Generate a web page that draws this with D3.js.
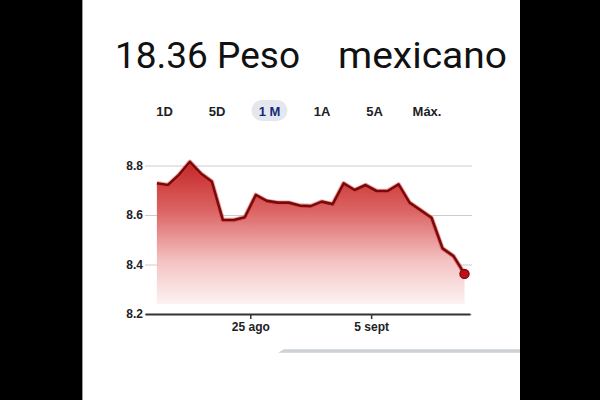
<!DOCTYPE html>
<html>
<head>
<meta charset="utf-8">
<script src="https://cdn.jsdelivr.net/npm/d3@7"></script>
<style>
  html, body { margin: 0; padding: 0; background: #000; }
  svg { display: block; }
</style>
</head>
<body>
<svg id="chart" width="600" height="400"></svg>
<script>
// ---- data ----
const dates = [
  "2023-08-16 12:00","2023-08-17 12:00","2023-08-18 12:00","2023-08-19 12:00","2023-08-20 12:00",
  "2023-08-21 12:00","2023-08-22 12:00","2023-08-23 12:00","2023-08-24 12:00","2023-08-25 12:00",
  "2023-08-26 12:00","2023-08-27 12:00","2023-08-28 12:00","2023-08-29 12:00","2023-08-30 12:00",
  "2023-08-31 12:00","2023-09-01 12:00","2023-09-02 12:00","2023-09-03 12:00","2023-09-04 12:00",
  "2023-09-05 12:00","2023-09-06 12:00","2023-09-07 12:00","2023-09-08 12:00","2023-09-09 12:00",
  "2023-09-10 12:00","2023-09-11 12:00","2023-09-12 12:00","2023-09-13 12:00"
];
const values = [
  8.728, 8.721, 8.762, 8.815, 8.768, 8.735, 8.580, 8.580, 8.591, 8.681,
  8.657, 8.650, 8.650, 8.638, 8.636, 8.654, 8.644, 8.728, 8.701, 8.721,
  8.697, 8.697, 8.724, 8.650, 8.620, 8.589, 8.465, 8.434, 8.362
];
const yTicks = [8.2, 8.4, 8.6, 8.8];
const xTickDates = ["2023-08-25 00:00", "2023-09-05 00:00"];
const xTickLabels = ["25 ago", "5 sept"];
const ranges = ["1D", "5D", "1 M", "1A", "5A", "Máx."];
const selectedRange = "1 M";
const titleValue = "18.36";
const titleWords = ["Peso", "mexicano"];

// ---- drawing ----
const parse = d3.timeParse("%Y-%m-%d %H:%M");
const data = dates.map((d, i) => ({ date: parse(d), value: values[i] }));

const svg = d3.select("#chart");

// background panels
svg.append("rect").attr("x", 0).attr("y", 0).attr("width", 600).attr("height", 400).attr("fill", "#000");
svg.append("rect").attr("x", 82).attr("y", 0).attr("width", 438).attr("height", 400).attr("fill", "#fff");
svg.append("line").attr("x1", 82.5).attr("x2", 82.5).attr("y1", 0).attr("y2", 400)
  .attr("stroke", "#9a9a9a").attr("stroke-width", 1);

// title
svg.append("text").attr("x", 115).attr("y", 68)
  .attr("font-family", "Roboto, 'Noto Sans', sans-serif").attr("font-size", 37.5)
  .attr("textLength", 185).attr("lengthAdjust", "spacingAndGlyphs")
  .attr("fill", "#111").text(titleValue + " " + titleWords[0]);
svg.append("text").attr("x", 338).attr("y", 68)
  .attr("font-family", "Roboto, 'Noto Sans', sans-serif").attr("font-size", 37.5)
  .attr("textLength", 169).attr("lengthAdjust", "spacingAndGlyphs")
  .attr("fill", "#111").text(titleWords[1]);

// range buttons
const btnCenters = d3.scalePoint().domain(ranges).range([164.5, 427]);
const btn = svg.append("g").selectAll("g").data(ranges).join("g")
  .attr("transform", d => `translate(${btnCenters(d)},0)`);
btn.filter(d => d === selectedRange).append("rect")
  .attr("x", -18).attr("y", 100).attr("width", 36).attr("height", 21).attr("rx", 10.5)
  .attr("fill", "#e4e8ee");
btn.append("text").attr("y", 116).attr("text-anchor", "middle")
  .attr("font-family", "'Liberation Sans', Arial, sans-serif").attr("font-weight", "bold")
  .attr("font-size", 13)
  .attr("fill", d => d === selectedRange ? "#13287a" : "#202124")
  .text(d => d);

// scales
const x = d3.scaleTime()
  .domain([parse("2023-08-15 10:00"), parse("2023-09-14 00:00")])
  .range([145, 470]);
const y = d3.scaleLinear().domain([8.2, 8.8]).range([314, 165.5]);

// gridlines + y labels
const yAxis = d3.axisLeft(y).tickValues(yTicks).tickFormat(d3.format(".1f"))
  .tickSize(-(x.range()[1] - x.range()[0] + 2)).tickPadding(2);
const gy = svg.append("g").attr("transform", `translate(${x.range()[0]},0)`).call(yAxis);
gy.select(".domain").remove();
gy.selectAll(".tick line").attr("stroke", "#cccccc").attr("stroke-width", 1);
gy.selectAll(".tick text").attr("font-family", "'Liberation Sans', Arial, sans-serif")
  .attr("font-weight", "bold").attr("font-size", 12).attr("fill", "#222");

// gradient
const defs = svg.append("defs");
const grad = defs.append("linearGradient").attr("id", "fillGrad")
  .attr("gradientUnits", "userSpaceOnUse").attr("x1", 0).attr("x2", 0)
  .attr("y1", y(8.82)).attr("y2", y(8.24));
grad.append("stop").attr("offset", "0%").attr("stop-color", "#c42424");
grad.append("stop").attr("offset", "35%").attr("stop-color", "#dc6464");
grad.append("stop").attr("offset", "70%").attr("stop-color", "#f4c2c2");
grad.append("stop").attr("offset", "100%").attr("stop-color", "#fdf2f2");

const area = d3.area().x(d => x(d.date)).y0(y(8.24)).y1(d => y(d.value));
svg.append("path").datum(data).attr("d", area).attr("fill", "url(#fillGrad)");

const line = d3.line().x(d => x(d.date)).y(d => y(d.value));
svg.append("path").datum(data).attr("d", line)
  .attr("fill", "none").attr("stroke", "#e04848").attr("stroke-width", 4.5).attr("stroke-opacity", 0.5)
  .attr("stroke-linejoin", "round");
svg.append("path").datum(data).attr("d", line)
  .attr("fill", "none").attr("stroke", "#7a0a0a").attr("stroke-width", 2.6)
  .attr("stroke-linejoin", "round");

// end dot
const last = data[data.length - 1];
svg.append("circle").attr("cx", x(last.date)).attr("cy", y(last.value)).attr("r", 4.6)
  .attr("fill", "#c01018").attr("stroke", "#7a0a0a").attr("stroke-width", 1.2);

// x axis
const xAxis = d3.axisBottom(x).tickValues(xTickDates.map(parse))
  .tickFormat((d, i) => xTickLabels[i]).tickSize(5).tickSizeOuter(0).tickPadding(3);
const gx = svg.append("g").attr("transform", `translate(0,${y(8.2)})`).call(xAxis);
gx.select(".domain").attr("stroke", "#333").attr("stroke-width", 2);
gx.selectAll(".tick line").attr("stroke", "#333").attr("stroke-width", 1.5);
gx.selectAll(".tick text").attr("font-family", "'Liberation Sans', Arial, sans-serif")
  .attr("font-weight", "bold").attr("font-size", 12).attr("fill", "#222");

// bottom gray bar
svg.append("path").attr("d", "M278,352.8 L284,349.2 L520,349.2 L520,352.8 Z").attr("fill", "#cdd0d5");
</script>
</body>
</html>
